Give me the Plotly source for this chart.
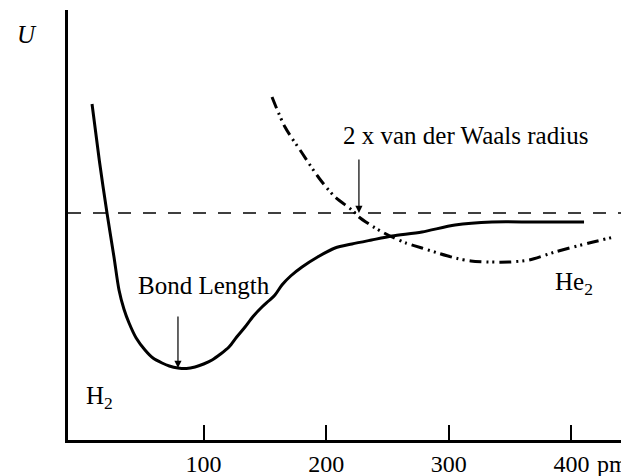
import plotly.graph_objects as go

# H2 potential curve (bond distance in pm, U in arbitrary units)
h2_r = [9.0, 15.0, 21.2, 26.9, 31.0, 35.0, 39.2, 45.0, 52.2, 58.7, 66.1, 72.0, 79.1, 86.0, 93.0,
        100.0, 106.9, 113.8, 120.7, 127.0, 133.8, 140.0, 147.6, 153.0, 158.2, 163.9,
        171.0, 180.3, 193.0, 207.2, 221.0, 237.0, 253.7, 278.1, 305.1, 335.2, 370.0, 410.3]
h2_u = [1.09, 0.52, 0.0, -0.44, -0.77, -0.96, -1.10, -1.25, -1.37, -1.45, -1.50, -1.53, -1.55,
        -1.555, -1.54, -1.51, -1.47, -1.41, -1.34, -1.24, -1.14, -1.04, -0.94, -0.88, -0.82, -0.72,
        -0.63, -0.54, -0.44, -0.35, -0.31, -0.27, -0.23, -0.19, -0.12, -0.09, -0.09, -0.09]

# He2 potential curve
he2_r = [155.8, 166.4, 180.3, 194.1, 207.2, 221.0, 226.7, 240.0, 253.7, 265.0, 278.1, 291.0,
         305.1, 318.0, 332.8, 349.1, 365.4, 386.6, 414.4, 434.7]
he2_u = [1.16, 0.86, 0.60, 0.35, 0.16, 0.03, -0.04, -0.15, -0.24, -0.30, -0.35, -0.40,
         -0.45, -0.48, -0.49, -0.49, -0.47, -0.39, -0.30, -0.24]

tick_vals = [100, 200, 300, 400]
tick_text = ["100", "200", "300", "400"]

bond_length = 79.1
vdw_distance = 226.7

FONT = "Liberation Serif"

fig = go.Figure()
fig.add_trace(go.Scatter(x=h2_r, y=h2_u, mode="lines",
                         line=dict(color="black", width=3, shape="spline", smoothing=0.8),
                         showlegend=False, hoverinfo="skip"))
fig.add_trace(go.Scatter(x=he2_r, y=he2_u, mode="lines",
                         line=dict(color="black", width=3, shape="spline", smoothing=0.8,
                                   dash="12px,5px,2px,4px,2px,5px"),
                         showlegend=False, hoverinfo="skip"))

fig.add_hline(y=0, line=dict(color="black", width=1.3, dash="13px,12px"))

tf = dict(family=FONT, size=25, color="black")
tick_font = dict(family=FONT, size=24, color="black")
fig.add_annotation(x=bond_length, y=-1.55, ax=bond_length, ay=-1.02, xref="x", yref="y",
                   axref="x", ayref="y", showarrow=True, arrowhead=2, arrowsize=1.2,
                   arrowwidth=1.2, arrowcolor="black", text="")
fig.add_annotation(x=vdw_distance, y=0, ax=vdw_distance, ay=0.55, xref="x", yref="y",
                   axref="x", ayref="y", showarrow=True, arrowhead=2, arrowsize=1.2,
                   arrowwidth=1.2, arrowcolor="black", text="")
fig.add_annotation(x=100.3, y=-0.72, text="Bond Length", showarrow=False, font=tf,
                   xanchor="center", yanchor="middle")
fig.add_annotation(x=314, y=0.78, text="2 x van der Waals radius", showarrow=False, font=tf,
                   xanchor="center", yanchor="middle")
fig.add_annotation(x=402, y=-0.70, text="He<sub>2</sub>", showarrow=False, font=tf,
                   xanchor="center", yanchor="middle")
fig.add_annotation(x=14.7, y=-1.84, text="H<sub>2</sub>", showarrow=False, font=tf,
                   xanchor="center", yanchor="middle")
fig.add_annotation(x=-0.074, y=0.942, xref="paper", yref="paper", text="<i>U</i>",
                   showarrow=False, font=tf, xanchor="center", yanchor="middle")
fig.add_annotation(x=1.0, y=-0.055, xref="paper", yref="paper", text="pm",
                   showarrow=False, font=tick_font, xanchor="center", yanchor="middle",
                   xshift=-12)

fig.update_xaxes(range=[-10.6, 442.9], showline=True, linewidth=3, linecolor="black",
                 ticks="inside", ticklen=15, tickwidth=1.5, tickcolor="black",
                 tickvals=tick_vals, ticktext=tick_text, tickfont=tick_font, automargin=False,
                 showgrid=False, zeroline=False)
fig.update_yaxes(range=[-2.27, 2.03], showline=True, linewidth=3, linecolor="black",
                 showticklabels=False, ticks="", showgrid=False, zeroline=False,
                 automargin=False)

# The page body has an 8px margin, so the figure is sized to sit in the window
fig.update_layout(width=621, height=468, margin=dict(l=60, r=5, t=2, b=36),
                  plot_bgcolor="white", paper_bgcolor="white")

fig.write_html("out.html")
